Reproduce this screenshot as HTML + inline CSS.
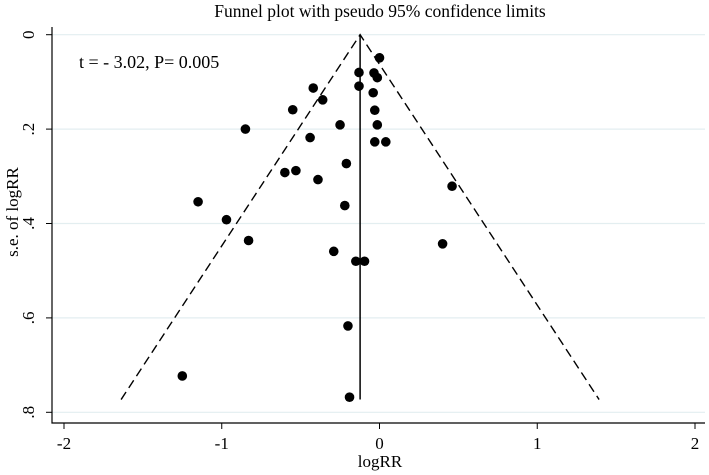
<!DOCTYPE html>
<html><head><meta charset="utf-8"><style>
body{margin:0;background:#fff;}
svg{display:block;font-family:"Liberation Serif",serif;}
</style></head><body>
<svg id="chart" width="709" height="475"></svg>
<script>
const xTicks=[-2,-1,0,1,2];
const xTickLabels=["-2","-1","0","1","2"];
const yTicks=[0,0.2,0.4,0.6,0.8];
const yTickLabels=["0",".2",".4",".6",".8"];
const logRR=[0,-0.13,-0.035,-0.014,-0.13,-0.42,-0.36,-0.04,-0.55,-0.03,-0.85,-0.25,-0.014,-0.44,-0.03,0.04,-0.21,-0.60,-0.53,-0.39,0.46,-1.15,-0.22,-0.97,-0.83,0.40,-0.29,-0.15,-0.095,-0.20,-1.25,-0.19];
const seLogRR=[0.049,0.08,0.081,0.091,0.109,0.113,0.138,0.123,0.159,0.160,0.2,0.191,0.191,0.218,0.227,0.227,0.273,0.292,0.288,0.307,0.321,0.354,0.362,0.392,0.436,0.443,0.459,0.48,0.48,0.617,0.723,0.768];
const pooled=[-0.123];
const seMax=[0.773];
const NS="http://www.w3.org/2000/svg";
const svg=document.getElementById('chart');
const X=v=>379.5+v*157.75;
const Y=v=>34.7+v*472;
function mk(t,a,p){const e=document.createElementNS(NS,t);for(const k in a)e.setAttribute(k,a[k]);(p||svg).appendChild(e);return e;}
yTicks.forEach((t,i)=>{
 const g=mk('line',{x1:52,x2:705,y1:Y(t),y2:Y(t),stroke:'#e3eef0','stroke-width':1.2});
 
 
 const tk=mk('line',{x1:46,x2:52,y1:Y(t),y2:Y(t),stroke:'#000'});
 
 
 const lx=30, ly=Y(t);
 const lb=mk('text',{x:lx,y:ly,'font-size':17,'text-anchor':'middle','dominant-baseline':'middle',transform:`rotate(-90 ${lx} ${ly})`});
 lb.textContent=yTickLabels[i];
 
 
});
xTicks.forEach((t,i)=>{
 const tk=mk('line',{x1:X(t),x2:X(t),y1:423,y2:429,stroke:'#000'});
 
 
 const lb=mk('text',{x:X(t),y:449,'font-size':17,'text-anchor':'middle'});
 lb.textContent=xTickLabels[i];
 
 
});
const ax=mk('path',{d:'M52 27 V423 H705',fill:'none',stroke:'#000','stroke-width':1.2});


const c=pooled[0], s=seMax[0];
const fl=mk('path',{d:`M${X(c-1.96*s)} ${Y(s)} L${X(c)} ${Y(0)} L${X(c+1.96*s)} ${Y(s)}`,fill:'none',stroke:'#000','stroke-width':1.4,'stroke-dasharray':'9,5'});


const vl=mk('line',{x1:X(c),x2:X(c),y1:Y(0),y2:Y(s),stroke:'#000','stroke-width':1.5});


logRR.forEach((v,i)=>{
 const d=mk('ellipse',{cx:X(v),cy:Y(seLogRR[i]),rx:4.8,ry:4.8,fill:'#000'});
 
 
});
const title=mk('text',{x:380,y:17,'font-size':17.5,'text-anchor':'middle'});
title.textContent='Funnel plot with pseudo 95% confidence limits';


const ann=mk('text',{x:79,y:68,'font-size':18});
ann.textContent='t = - 3.02, P= 0.005';


const xl=mk('text',{x:380,y:467,'font-size':17,'text-anchor':'middle'});
xl.textContent='logRR';


const yl=mk('text',{x:14,y:212,'font-size':17,'text-anchor':'middle','dominant-baseline':'middle',transform:'rotate(-90 14 212)'});
yl.textContent='s.e. of logRR';


</script>
</body></html>
